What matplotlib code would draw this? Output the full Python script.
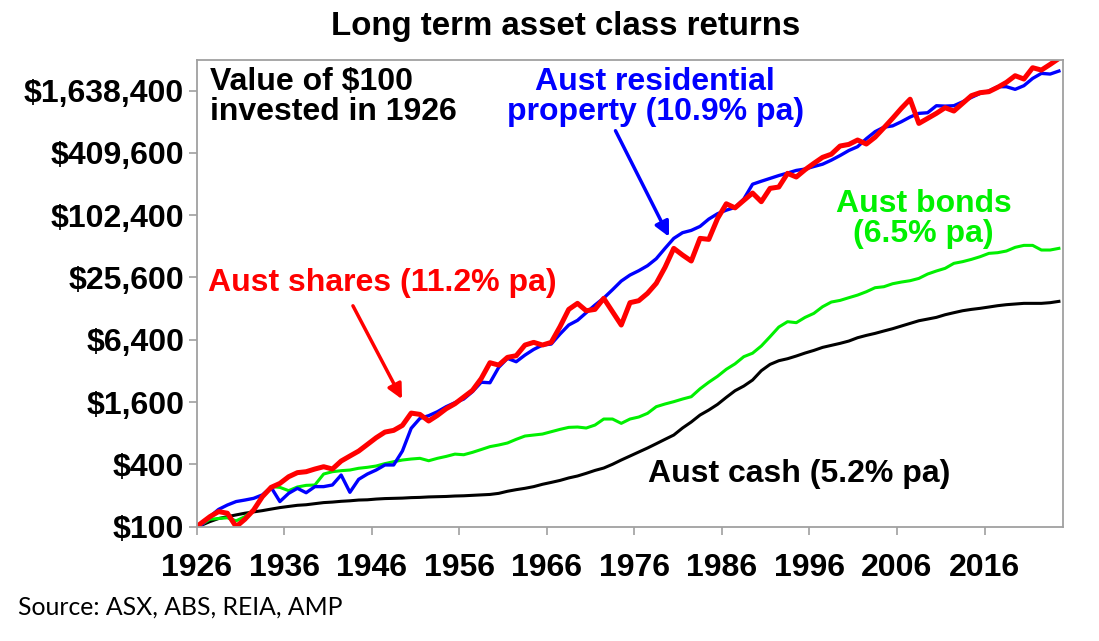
import numpy as np
import matplotlib
matplotlib.use('Agg')
from matplotlib import pyplot as plt
from matplotlib.ticker import FixedLocator, NullLocator

# value of $100 invested at the start of 1926, then end-of-year values 1926..2024
start_year = 1926
years = np.arange(1926, 2025)

shares = [100,
          108, 125, 140, 135, 100, 118, 145, 195, 240, 262,
          304, 333, 340, 361, 380, 361, 431, 482, 538, 624,
          724, 821, 853, 953, 1253, 1217, 1050, 1191, 1381, 1543,
          1790, 2076, 2700, 3843, 3648, 4328, 4493, 5694, 6046, 5694,
          6046, 8563, 12594, 14400, 12220, 12594, 16100, 11960, 8890, 14620,
          15280, 18000, 22480, 32090, 48960, 42220, 36930, 61130, 59810, 95000,
          132000, 120500, 142400, 167700, 138200, 186000, 191600, 259700, 239500, 281800,
          324400, 371000, 397800, 477300, 494700, 545500, 498900, 581100, 715200, 884200,
          1104000, 1352000, 789000, 882000, 987000, 1120000, 1039000, 1233000, 1463000, 1564000,
          1599000, 1761000, 1968000, 2281000, 2119000, 2725000, 2587000, 2935000, 3350000]

property_ = [100,
             103, 125, 147, 162, 175, 181, 188, 203, 240, 175,
             210, 235, 213, 244, 244, 253, 316, 215, 287, 323,
             353, 395, 395, 539, 893, 1114, 1183, 1292, 1445, 1580,
             1713, 2017, 2490, 2461, 3465, 4232, 3928, 4556, 5168, 5694,
             5820, 7268, 8890, 9860, 11700, 13870, 16200, 19500, 23650, 27040,
             29770, 33290, 38890, 48960, 61130, 69380, 73000, 79800, 93900, 105800,
             114500, 121800, 146700, 204000, 218000, 232200, 247400, 261600, 277400, 285900,
             302400, 318500, 348500, 386200, 432000, 470200, 561700, 656800, 725500, 747100,
             819500, 910000, 987000, 1001000, 1170000, 1160000, 1170000, 1277000, 1407000, 1540000,
             1624000, 1786000, 1786000, 1684000, 1827000, 2148000, 2403000, 2367000, 2531000]

bonds = [100,
         104, 118, 120, 122, 114, 125, 145, 198, 244, 240,
         223, 242, 251, 253, 323, 340, 348, 353, 367, 375,
         386, 407, 425, 441, 451, 458, 434, 458, 478, 503,
         496, 523, 557, 594, 616, 644, 699, 752, 769, 786,
         828, 872, 912, 919, 899, 960, 1098, 1098, 997, 1098,
         1148, 1246, 1445, 1534, 1615, 1713, 1804, 2150, 2490, 2840,
         3320, 3750, 4396, 4750, 5575, 6859, 8500, 9578, 9368, 10540,
         11520, 13360, 14830, 15380, 16330, 17310, 18650, 20400, 20850, 22280,
         23130, 23840, 25090, 27650, 29580, 31380, 35070, 36420, 38310, 40670,
         43800, 44460, 46140, 50070, 52320, 52320, 47180, 47180, 48960]

cash = [100,
        103, 112, 120, 125, 130, 135, 139, 143, 148, 153,
        157, 161, 163, 167, 171, 173, 176, 178, 181, 182,
        185, 187, 188, 189, 191, 192, 194, 195, 196, 198,
        199, 201, 203, 205, 210, 220, 228, 235, 244, 257,
        268, 280, 296, 309, 328, 350, 369, 401, 441, 482,
        527, 576, 634, 699, 769, 899, 1028, 1200, 1341, 1521,
        1778, 2061, 2287, 2613, 3217, 3703, 4019, 4202, 4462, 4768,
        5053, 5406, 5655, 5913, 6225, 6703, 7059, 7383, 7785, 8191,
        8692, 9219, 9779, 10150, 10540, 11180, 11700, 12220, 12590, 12890,
        13270, 13670, 13980, 14190, 14400, 14400, 14400, 14620, 15050]

y_ticks = [100 * 4 ** k for k in range(8)]
x_ticks = list(range(1926, 2025, 10))

RED = '#ff0000'
BLUE = '#0000ff'
GREEN = '#00f000'
BLACK = '#000000'
GRID = '#a0a0a0'


def main():
    plt.rcParams['font.family'] = ['Liberation Sans', 'DejaVu Sans']

    fig = plt.figure(figsize=(10.99, 6.41), dpi=100)
    ax = fig.add_axes([0.179, 0.1783, 0.7885, 0.728])

    # year-end values sit half way through each year
    x = np.concatenate([[start_year], years + 0.5])

    ax.plot(x, cash, color=BLACK, lw=2.2, solid_joinstyle='round')
    ax.plot(x, bonds, color=GREEN, lw=2.2, solid_joinstyle='round')
    ax.plot(x, property_, color=BLUE, lw=2.4, solid_joinstyle='round')
    ax.plot(x, shares, color=RED, lw=3.6, solid_joinstyle='round')

    ax.set_yscale('log')
    ax.set_ylim(100, 100 * 4 ** 7.49)
    ax.set_xlim(1926, 2025)
    ax.yaxis.set_major_locator(FixedLocator(y_ticks))
    ax.yaxis.set_minor_locator(NullLocator())
    ax.set_yticklabels(['${:,}'.format(v) for v in y_ticks])
    ax.set_xticks(x_ticks)
    ax.set_xticklabels([str(t) for t in x_ticks])

    for s in ax.spines.values():
        s.set_color(GRID)
        s.set_linewidth(1.3)
    ax.tick_params(axis='both', which='major', length=6, width=1.2, color=GRID,
                   labelsize=23, direction='out')
    ax.tick_params(axis='x', pad=13)
    ax.tick_params(axis='y', pad=3)
    for lab in ax.get_xticklabels() + ax.get_yticklabels():
        lab.set_fontweight('bold')

    fig.text(0.515, 0.958, 'Long term asset class returns', ha='center', va='center',
             fontsize=23.8, fontweight='bold')

    ax.text(0.015, 0.985, 'Value of $100\ninvested in 1926', transform=ax.transAxes,
            ha='left', va='top', fontsize=23, fontweight='bold', color=BLACK, linespacing=1.0)
    ax.text(0.529, 0.985, 'Aust residential\nproperty (10.9% pa)', transform=ax.transAxes,
            ha='center', va='top', fontsize=23, fontweight='bold', color=BLUE, linespacing=1.0)
    ax.text(0.013, 0.522, 'Aust shares (11.2% pa)', transform=ax.transAxes,
            ha='left', va='center', fontsize=23, fontweight='bold', color=RED)
    ax.text(0.839, 0.659, 'Aust bonds\n(6.5% pa)', transform=ax.transAxes,
            ha='center', va='center', fontsize=23, fontweight='bold', color=GREEN, linespacing=1.0)
    ax.text(0.521, 0.113, 'Aust cash (5.2% pa)', transform=ax.transAxes,
            ha='left', va='center', fontsize=23, fontweight='bold', color=BLACK)

    ax.annotate('', xy=(1949.6, 1617), xytext=(1943.7, 14400),
                arrowprops=dict(arrowstyle='-|>', color=RED, lw=2.5, mutation_scale=22))
    ax.annotate('', xy=(1980.1, 60000), xytext=(1973.7, 709000),
                arrowprops=dict(arrowstyle='-|>', color=BLUE, lw=2.5, mutation_scale=22))

    fig.text(0.016, 0.053, 'Source: ASX, ABS, REIA, AMP', ha='left', va='center',
             fontsize=17.8, family=['Lato', 'DejaVu Sans'])

    fig.savefig('out.png', dpi=100)


if __name__ == '__main__':
    main()
